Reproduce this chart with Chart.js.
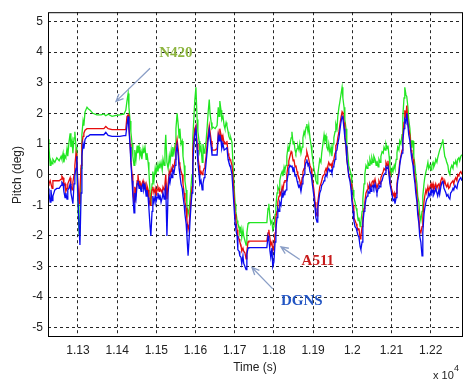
<!DOCTYPE html>
<html>
<head>
<meta charset="utf-8">
<script src="https://cdn.jsdelivr.net/npm/chart.js@4/dist/chart.umd.min.js"></script>
<style>
  html, body { margin: 0; padding: 0; background: #fff; }
  #wrap { width: 468px; height: 382px; }
</style>
</head>
<body>
<div id="wrap"><canvas id="c" width="468" height="382"></canvas></div>
<script>
// Time stamps (s) shared by the three pitch records
const times = [
  11224,11226,11229,11231,11234,11236,11241,11246,11252,11257,11259,11262,11264,11267,11269,11272,11274,11277,11280,11282,11285,11287,11290,11292,11295,11297,11300,11303,11305,11308,11310,11313,11315,11318,11323,11326,
  11331,11338,11348,11359,11366,11371,11377,11387,11397,11407,11417,11422,
  11425,11428,11430,11433,11435,11438,11440,11443,11445,11448,11451,11453,11456,11458,11461,11463,11466,11468,11471,11474,11476,11479,11481,11484,11486,11489,11491,
  11494,11497,11499,11502,11504,11507,11509,11512,11515,11517,
  11520,11522,11524,11527,11530,11533,11535,11538,11540,11542,
  11545,11548,11550,11553,11556,11558,11560,11563,11566,11568,
  11571,11573,11576,11578,11581,11584,11586,11589,11591,11593,
  11596,11598,11601,11604,11606,11609,11611,11614,11617,11619,
  11622,11624,11627,11630,11632,11635,11637,11640,11642,11645,
  11650,11655,11658,11660,11662,11665,11667,11670,11673,11675,11678,11680,
  11683,11685,11688,11690,11693,11695,11698,11701,11703,11706,
  11708,11711,11713,11716,11718,11721,11723,11726,11729,11731,
  11734,11736,11782,
  11785,11787,11790,11792,11795,11797,11800,11803,11805,11808,
  11810,11813,11815,11818,11821,11823,11826,11828,11831,11833,
  11836,11838,11841,11844,11846,11849,11851,11854,11856,11859,
  11861,11864,11866,11869,11872,11874,11877,11879,11882,11884,
  11887,11889,11892,11895,11897,11899,11902,11905,11907,11910,
  11912,11915,11917,11920,11922,11925,11928,11930,11933,11935,
  11938,11940,11943,11946,11948,11951,11953,11956,11958,11961,
  11963,11966,11968,11971,11974,11976,11979,11981,11984,11986,
  11989,11991,11994,11997,11999,12002,12004,12007,12010,12012,
  12015,12017,12020,12022,12025,12027,12030,12032,12035,12038,
  12040,12043,12045,12048,12050,12053,12055,12058,12061,12063,
  12066,12068,12071,12073,12076,12079,12081,12084,12086,12089,
  12091,12094,12096,12099,12102,12104,12107,12109,12112,12114,
  12116,12119,12121,12124,12127,12129,12132,12134,12137,12139,
  12142,12144,12147,12150,12152,12155,12157,12160,12162,12165,
  12167,12170,12172,12175,12178,12180,12183,12185,12188,12190,
  12193,12195,12198,12201,12203,12206,12208,12211,12213,12216,
  12218,12221,12223,12226,12229,12231,12234,12236,12239,12241,
  12244,12246,12249,12251,12254,12257,12259,12262,12264,12267,
  12269,12272,12274,12277,12280
];

// Pitch (deg) from the N420 unit
const n420 = [
  1.15,0.9,0.3,0.45,0.35,0.5,0.4,0.55,0.45,0.6,0.5,0.7,0.4,0.6,0.55,0.85,0.6,1.05,1.35,0.9,1.1,0.7,1.2,1.4,0.9,0.3,-1.0,-1.95,-1.2,0.2,1.3,1.75,1.6,2.05,2.2,2.15,
  2.1,2.0,1.95,1.95,1.98,1.92,1.97,1.9,1.93,1.95,1.97,2.1,
  2.4,2.65,2.2,1.75,1.4,1.0,0.6,0.3,0.8,0.5,0.95,0.7,0.9,0.6,0.75,0.5,0.85,0.7,0.9,0.5,0.7,0.4,0.1,-0.6,-1.0,-0.3,0.1,
  -0.2,0.2,0.0,0.3,0.1,0.35,0.2,0.4,0.15,0.5,
  0.3,0.8,1.3,0.4,0.2,0.6,0.4,0.8,0.6,0.9,
  0.7,1.0,1.5,2.0,1.6,1.2,1.5,1.0,1.1,0.6,
  0.3,-0.2,-0.5,-1.0,-1.3,-1.1,-0.8,-0.3,0.0,1.2,
  1.9,2.4,2.85,1.8,1.4,1.1,0.75,0.9,0.4,1.0,
  0.7,0.8,1.1,1.6,2.0,2.45,2.0,1.7,1.5,1.55,
  1.5,1.6,2.2,1.9,2.4,2.1,1.8,1.9,1.6,1.5,1.7,1.6,
  1.4,1.25,1.15,1.2,1.05,0.5,-0.3,-0.95,-1.2,-1.5,
  -1.6,-1.7,-1.9,-1.75,-2.05,-1.8,-2.0,-2.15,-2.3,-1.9,
  -1.6,-1.57,-1.57,
  -1.1,-0.95,-1.4,-1.6,-1.5,-1.8,-1.7,-1.3,-1.05,-0.6,
  -0.4,-0.5,-0.2,0.0,0.1,-0.05,0.25,0.15,0.3,0.6,
  0.9,0.75,1.0,1.2,1.4,1.0,1.1,0.8,0.7,0.85,
  0.95,0.8,1.0,0.7,0.9,1.2,1.4,1.3,1.55,1.65,
  1.4,1.6,1.2,0.95,0.7,0.5,0.2,0.0,-0.2,-0.3,
  0.0,0.3,0.5,0.4,0.7,1.0,1.3,1.1,1.25,0.9,
  0.8,1.0,0.7,0.9,0.6,1.0,1.2,1.4,1.65,1.5,
  1.9,2.2,2.35,2.6,2.85,2.5,2.2,1.8,1.5,1.0,
  0.6,0.3,0.15,0.0,-0.3,-0.5,-0.75,-0.9,-1.1,-1.2,
  -1.5,-1.4,-1.7,-1.55,-1.2,-0.8,-0.3,0.0,0.3,0.2,
  0.4,0.3,0.5,0.35,0.55,0.4,0.6,0.5,0.3,0.45,
  0.25,0.5,0.4,0.6,0.75,0.7,0.9,0.8,1.0,0.85,
  0.95,0.6,0.3,0.0,0.2,0.1,0.3,0.2,0.5,0.7,
  0.9,0.8,1.1,1.0,1.3,1.9,2.5,2.85,2.6,2.55,
  2.2,1.8,1.5,0.9,1.1,1.1,0.6,0.3,0.0,-0.3,
  -0.7,-0.9,-1.3,-1.5,-1.2,-0.7,-0.3,-0.1,0.1,0.2,
  0.4,0.2,0.3,0.15,0.3,0.4,0.25,0.35,0.5,0.4,
  0.55,0.7,0.8,0.9,1.05,1.15,0.8,0.6,0.5,0.4,
  0.3,0.1,0.0,0.2,0.3,0.2,0.4,0.35,0.45,0.3,
  0.5,0.55,0.45,0.6,0.65
];

// Pitch (deg) from the A511 unit
const a511 = [
  -0.25,-0.3,-0.2,-0.2,-0.45,-0.2,-0.2,-0.2,-0.2,-0.15,-0.05,-0.1,-0.35,-0.3,-0.55,-0.45,-0.3,-0.2,-0.1,-0.35,-0.5,-0.25,0.0,0.3,0.7,0.5,-0.3,-0.95,-0.5,0.3,1.0,1.25,1.35,1.45,1.5,1.5,
  1.5,1.5,1.5,1.5,1.5,1.57,1.5,1.47,1.47,1.47,1.47,1.47,
  1.9,1.95,1.6,1.0,0.5,0.0,-0.5,-0.9,-0.4,-0.6,-0.2,0.0,-0.35,-0.2,-0.45,-0.3,-0.2,-0.4,-0.3,-0.55,-0.35,-0.5,-0.8,-1.0,-0.8,-0.5,-0.4,
  -0.6,-0.45,-0.7,-0.5,-0.4,-0.55,-0.45,-0.5,-0.6,-0.4,
  -0.5,-0.3,0.0,-0.8,-0.3,0.1,0.0,0.2,0.1,0.3,
  0.25,0.5,0.9,1.15,0.8,0.4,0.3,0.1,0.0,-0.3,
  -0.6,-0.9,-1.1,-1.5,-1.8,-1.6,-1.2,-0.7,-0.4,0.8,
  1.2,1.5,1.6,1.0,0.6,0.3,0.0,0.1,0.0,0.1,
  0.2,0.3,0.6,1.05,1.3,1.6,1.4,1.1,0.8,0.8,
  0.8,0.85,1.35,1.2,1.5,1.3,1.05,1.25,1.0,1.05,1.0,1.1,
  0.7,0.6,0.5,0.45,0.3,0.0,-0.6,-1.3,-1.5,-1.8,
  -2.0,-2.1,-2.2,-2.3,-2.5,-2.4,-2.5,-2.55,-2.75,-2.5,
  -2.2,-2.17,-2.17,
  -1.9,-1.8,-2.1,-2.3,-2.2,-2.5,-2.4,-1.9,-1.4,-1.2,
  -0.9,-0.7,-0.55,-0.65,-0.4,-0.5,-0.25,-0.2,-0.2,0.0,
  0.3,0.45,0.6,0.75,0.7,0.45,0.5,0.25,0.3,0.1,
  0.0,-0.1,-0.2,-0.4,-0.1,0.1,0.2,0.45,0.6,0.75,
  0.6,0.5,0.3,0.2,0.0,-0.2,-0.5,-0.9,-1.2,-1.35,
  -0.9,-0.6,-0.4,-0.3,-0.2,-0.05,0.0,0.1,0.2,0.1,
  0.3,0.4,0.3,0.35,0.2,0.45,0.5,0.7,0.95,1.0,
  1.2,1.4,1.6,1.85,2.05,2.0,1.7,1.3,0.9,0.5,
  0.2,0.0,-0.15,-0.3,-0.7,-1.0,-1.4,-1.5,-1.6,-1.7,
  -1.8,-1.75,-2.1,-2.0,-1.7,-1.4,-1.1,-0.9,-0.6,-0.5,
  -0.35,-0.45,-0.3,-0.4,-0.25,-0.2,-0.3,-0.15,-0.35,-0.45,
  -0.3,-0.2,-0.3,-0.1,0.0,0.1,0.2,0.15,0.4,0.3,
  0.45,0.1,-0.2,-0.4,-0.55,-0.7,-0.6,-0.8,-0.6,-0.3,
  -0.1,0.1,0.4,0.6,0.8,1.2,1.7,2.1,1.9,2.25,
  1.7,1.5,1.3,0.8,0.7,0.5,0.2,-0.1,-0.3,-0.7,
  -1.1,-1.4,-1.8,-1.9,-1.7,-1.4,-0.9,-0.7,-0.5,-0.6,
  -0.4,-0.55,-0.4,-0.3,-0.45,-0.3,-0.5,-0.4,-0.3,-0.45,
  -0.35,-0.3,-0.5,-0.2,-0.1,-0.15,-0.3,-0.2,-0.35,-0.4,
  -0.3,-0.45,-0.4,-0.3,-0.25,-0.2,-0.3,-0.15,-0.1,-0.2,
  0.0,-0.05,0.05,0.1,0.0
];

// Pitch (deg) from the DGNS reference
const dgns = [
  -0.45,-0.6,-0.9,-0.5,-0.85,-0.7,-0.5,-0.45,-0.45,-0.35,-0.25,-0.3,-0.55,-0.75,-0.6,-0.8,-0.5,-0.45,-0.3,-0.6,-0.8,-0.95,-0.3,0.0,0.2,0.6,-0.8,-1.8,-2.3,-0.6,0.6,1.0,0.85,1.15,1.25,1.25,
  1.3,1.3,1.3,1.3,1.3,1.38,1.28,1.25,1.25,1.25,1.27,1.27,
  1.6,1.9,1.5,0.9,0.4,-0.2,-0.7,-1.25,-0.6,-0.8,-0.3,-0.2,-0.45,-0.35,-0.55,-0.4,-0.3,-0.5,-0.35,-0.7,-0.5,-0.75,-1.1,-1.7,-2.0,-1.2,-0.7,
  -0.9,-0.7,-0.9,-0.75,-0.6,-0.8,-0.65,-0.9,-0.75,-0.6,
  -0.8,-0.5,-0.4,-2.0,-0.6,-0.1,-0.25,0.0,-0.1,0.15,
  0.05,0.3,0.7,0.95,0.6,0.2,0.0,-0.3,-0.45,-0.7,
  -1.0,-1.3,-1.6,-2.0,-2.65,-2.0,-1.5,-0.9,-0.6,0.3,
  1.0,1.3,1.5,0.8,0.4,0.0,-0.3,-0.2,-0.5,-0.3,
  -0.1,0.0,0.4,0.8,1.1,1.45,1.2,0.9,0.64,0.64,
  0.64,0.64,1.25,1.1,1.3,1.1,0.85,1.0,0.8,0.8,0.85,0.9,
  0.5,0.4,0.3,0.2,0.0,-0.4,-1.0,-1.6,-1.8,-2.0,
  -2.45,-2.5,-2.65,-2.7,-2.9,-2.65,-2.9,-3.0,-3.1,-2.6,
  -2.4,-2.38,-2.38,
  -2.0,-2.1,-2.5,-2.7,-2.4,-3.0,-2.85,-2.2,-1.8,-1.4,
  -1.1,-1.2,-0.9,-1.0,-0.6,-0.75,-0.55,-0.6,-0.5,-0.25,
  0.0,0.2,0.3,0.25,0.3,0.1,0.25,-0.05,0.0,-0.2,
  -0.3,-0.4,-0.35,-0.55,-0.3,-0.1,0.0,0.25,0.4,0.5,
  0.3,0.35,0.1,0.0,-0.2,-0.4,-0.7,-1.1,-1.4,-1.55,
  -1.1,-0.8,-0.6,-0.5,-0.35,-0.3,-0.2,-0.1,0.0,-0.05,
  0.15,0.2,0.1,0.15,0.05,0.25,0.3,0.5,0.75,0.8,
  1.0,1.2,1.4,1.7,1.9,1.85,1.5,1.2,0.95,0.5,
  0.2,-0.05,-0.2,-0.5,-0.85,-1.2,-1.5,-1.7,-1.75,-1.85,
  -2.0,-2.05,-2.35,-2.45,-2.2,-1.6,-1.2,-1.05,-0.8,-0.7,
  -0.55,-0.6,-0.4,-0.55,-0.4,-0.35,-0.45,-0.3,-0.5,-0.6,
  -0.45,-0.35,-0.4,-0.25,-0.2,-0.05,0.0,0.05,0.25,0.2,
  0.3,-0.05,-0.3,-0.5,-0.7,-0.85,-0.8,-0.95,-0.75,-0.45,
  -0.2,0.0,0.3,0.55,0.7,1.1,1.5,1.8,1.7,2.0,
  1.6,1.3,1.1,0.7,0.5,0.3,0.0,-0.3,-0.6,-0.9,
  -1.3,-1.6,-2.0,-2.2,-2.65,-1.9,-1.3,-1.1,-0.9,-0.8,
  -0.75,-0.6,-0.7,-0.5,-0.6,-0.5,-0.65,-0.55,-0.45,-0.6,
  -0.7,-0.5,-0.65,-0.4,-0.25,-0.2,-0.45,-0.5,-0.6,-0.7,
  -0.65,-0.75,-0.8,-0.6,-0.55,-0.45,-0.5,-0.35,-0.4,-0.45,
  -0.3,-0.2,-0.15,-0.1,-0.2
];

// Axis tick values
const xTicks = [11300, 11400, 11500, 11600, 11700, 11800, 11900, 12000, 12100, 12200];
const yTicks = [-5, -4, -3, -2, -1, 0, 1, 2, 3, 4, 5];

// Callout labels: text position and arrow tail/head in data units
const callouts = [
  { text: 'N420', color: '#8cb43e', at: [11550, 3.95],  tail: [11484, 3.47],  head: [11397, 2.39] },
  { text: 'A511', color: '#c81c1c', at: [11912, -2.83], tail: [11866, -2.77], head: [11818, -2.36] },
  { text: 'DGNS', color: '#2356c4', at: [11871, -4.14], tail: [11797, -3.73], head: [11744, -3.03] }
];

const toPoints = vals => times.map((t, i) => ({ x: t, y: vals[i] }));

const SANS = '"Liberation Sans", Arial, Helvetica, sans-serif';
const SERIF = '"Liberation Serif", "Times New Roman", serif';

const decorations = {
  id: 'decorations',
  afterDatasetsDraw(chart) {
    const { ctx, chartArea: a, scales: { x, y } } = chart;
    ctx.save();
    // axes box
    ctx.strokeStyle = '#000';
    ctx.lineWidth = 1;
    ctx.setLineDash([]);
    ctx.strokeRect(a.left + 0.5, a.top + 0.5, a.right - a.left, a.bottom - a.top - 1);

    // callout arrows and labels
    callouts.forEach(c => {
      const x0 = x.getPixelForValue(c.tail[0]), y0 = y.getPixelForValue(c.tail[1]);
      const x1 = x.getPixelForValue(c.head[0]), y1 = y.getPixelForValue(c.head[1]);
      ctx.strokeStyle = '#8a9ec6';
      ctx.lineWidth = 1.3;
      ctx.beginPath();
      ctx.moveTo(x0, y0);
      ctx.lineTo(x1, y1);
      const ang = Math.atan2(y1 - y0, x1 - x0);
      const len = 8, spread = 0.42;
      ctx.moveTo(x1 - len * Math.cos(ang - spread), y1 - len * Math.sin(ang - spread));
      ctx.lineTo(x1, y1);
      ctx.lineTo(x1 - len * Math.cos(ang + spread), y1 - len * Math.sin(ang + spread));
      ctx.stroke();

      ctx.fillStyle = c.color;
      ctx.font = 'bold 15px ' + SERIF;
      ctx.textAlign = 'center';
      ctx.textBaseline = 'middle';
      ctx.fillText(c.text, x.getPixelForValue(c.at[0]), y.getPixelForValue(c.at[1]));
    });
    ctx.restore();
  },
  afterDraw(chart) {
    const { ctx, chartArea: a } = chart;
    ctx.save();
    ctx.fillStyle = '#222';
    ctx.font = '12px ' + SANS;
    ctx.textAlign = 'center';
    ctx.textBaseline = 'middle';
    ctx.fillText('Time (s)', (a.left + a.right) / 2, 368);

    ctx.save();
    ctx.translate(18, 175);
    ctx.rotate(-Math.PI / 2);
    ctx.fillText('Pitch (deg)', 0, 0);
    ctx.restore();

    // exponent of the time axis
    ctx.textAlign = 'left';
    ctx.font = '11px ' + SANS;
    ctx.fillText('x 10', 433, 376);
    ctx.font = '9px ' + SANS;
    ctx.fillText('4', 454, 369);
    ctx.restore();
  }
};

new Chart(document.getElementById('c'), {
  type: 'line',
  data: {
    datasets: [
      { label: 'DGNS', data: toPoints(dgns), borderColor: '#0a0af0', order: 1 },
      { label: 'A511', data: toPoints(a511), borderColor: '#e60c0c', order: 2 },
      { label: 'N420', data: toPoints(n420), borderColor: '#22e622', order: 3 }
    ]
  },
  options: {
    responsive: false,
    animation: false,
    layout: { padding: { top: 4, right: 6, left: 0, bottom: 0 } },
    elements: {
      point: { radius: 0 },
      line: { borderWidth: 1.3, tension: 0, fill: false }
    },
    plugins: { legend: { display: false }, tooltip: { enabled: false } },
    scales: {
      x: {
        type: 'linear',
        min: 11223.5,
        max: 12280,
        afterBuildTicks: s => { s.ticks = xTicks.map(v => ({ value: v })); },
        afterFit: s => { s.height = 45; },
        ticks: {
          autoSkip: false,
          maxRotation: 0,
          padding: 6,
          color: '#222',
          font: { family: SANS, size: 12 },
          callback: v => String(+(v / 1e4).toFixed(2))
        },
        grid: { color: 'rgba(0,0,0,0.85)', lineWidth: 1, drawTicks: false },
        border: { display: false, dash: [3, 3] }
      },
      y: {
        type: 'linear',
        min: -5.3,
        max: 5.3,
        afterBuildTicks: s => { s.ticks = yTicks.map(v => ({ value: v })); },
        afterFit: s => { s.width = 48; },
        ticks: {
          padding: 5,
          color: '#222',
          font: { family: SANS, size: 12 },
          callback: v => String(v)
        },
        grid: { color: 'rgba(0,0,0,0.85)', lineWidth: 1, drawTicks: false },
        border: { display: false, dash: [3, 3] }
      }
    }
  },
  plugins: [decorations]
});
</script>
</body>
</html>
